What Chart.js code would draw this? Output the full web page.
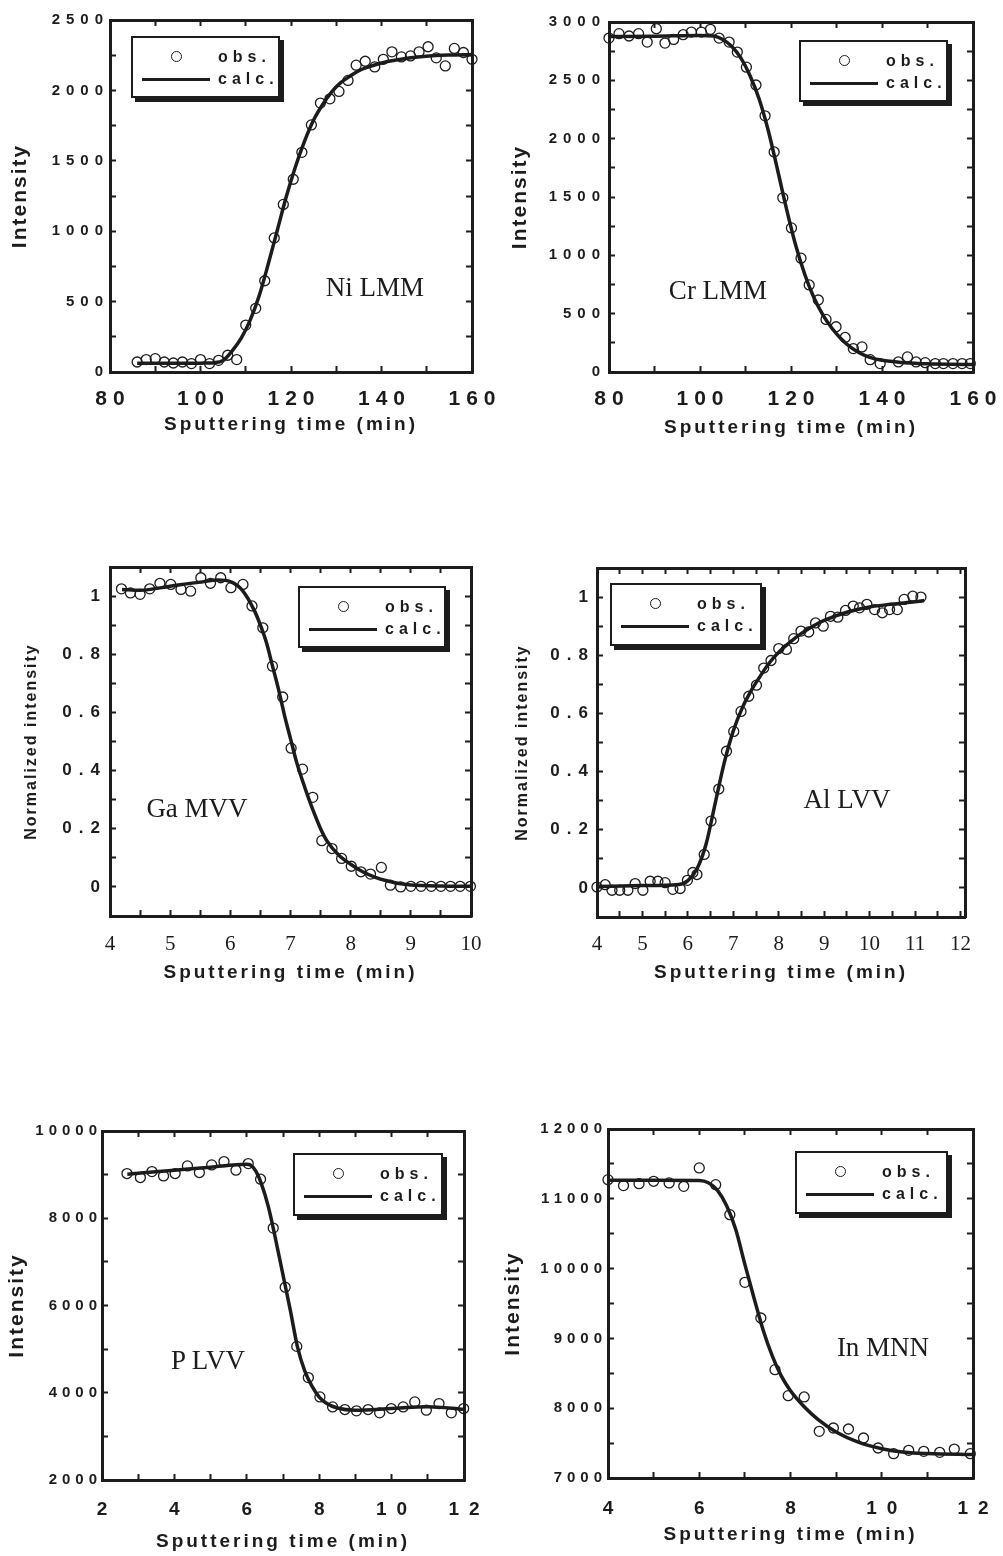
<!DOCTYPE html>
<html lang="en">
<head>
<meta charset="UTF-8">
<title>AES depth profiles: obs. vs calc.</title>
<script src="https://cdn.jsdelivr.net/npm/chart.js"></script>
<style>
  body { margin: 0; background: #fff; }
  #page { position: relative; width: 1003px; height: 1556px; overflow: hidden; background: #fff; }
  #page canvas { position: absolute; }
  .legend {
    position: absolute;
    box-sizing: border-box;
    border: 2px solid #1c1c1c;
    box-shadow: 4px 4px 0 #1c1c1c;
    background: #fff;
    color: #1c1c1c;
    font: bold 16px 'Liberation Sans', Arial, sans-serif;
    letter-spacing: 5px;
  }
  .legend .row { position: absolute; left: 0; right: 0; height: 22px; line-height: 22px; }
  .legend .txt { position: absolute; left: 85px; top: 0; }
  .legend .dot { position: absolute; left: 38px; top: 5px; width: 9px; height: 9px; border: 1.4px solid #1c1c1c; border-radius: 50%; }
  .legend .line { position: absolute; left: 9px; top: 10px; width: 68px; height: 3px; background: #1c1c1c; }
  .tag {
    position: absolute;
    transform: translate(-50%, -50%);
    white-space: nowrap;
    font: 27px 'Liberation Serif', 'Times New Roman', serif;
    color: #1c1c1c;
  }
</style>
</head>
<body>
<div id="page"></div>
<script>
// ---- Ni LMM ----
const niObsX = [86, 88, 90, 92, 94, 96, 98, 100, 102, 104, 106, 108, 110, 112.2, 114.2, 116.3, 118.3, 120.5, 122.4, 124.5, 126.5, 128.6, 130.6, 132.6, 134.4, 136.4, 138.5, 140.4, 142.3, 144.4, 146.4, 148.3, 150.3, 152.1, 154.1, 156.1, 158.1, 160];
const niObsY = [71, 88, 95, 71, 64, 71, 60, 88, 60, 83, 119, 88, 333, 452, 648, 952, 1190, 1369, 1560, 1755, 1910, 1940, 1993, 2071, 2179, 2207, 2167, 2221, 2274, 2238, 2245, 2274, 2310, 2231, 2174, 2298, 2269, 2221];
const niCalcX = [86, 90, 95, 100, 103, 105, 107, 109, 111, 113, 115, 117, 119, 121, 123, 125, 127, 129, 131, 133, 135, 137, 140, 144, 148, 152, 156, 160];
const niCalcY = [62, 62, 62, 63, 66, 82, 150, 240, 370, 545, 770, 1010, 1250, 1460, 1640, 1790, 1900, 1990, 2055, 2100, 2140, 2165, 2195, 2220, 2238, 2248, 2252, 2255];
const niXTicks = [80, 90, 100, 110, 120, 130, 140, 150, 160];
const niXLabels = [80, 100, 120, 140, 160];
const niYTicks = [0, 250, 500, 750, 1000, 1250, 1500, 1750, 2000, 2250, 2500];
const niYLabels = [0, 500, 1000, 1500, 2000, 2500];

// ---- Cr LMM ----
const crObsX = [80, 82.2, 84.4, 86.5, 88.4, 90.4, 92.3, 94.2, 96.3, 98.1, 100.3, 102.3, 104.2, 106.4, 108.2, 110.2, 112.3, 114.3, 116.3, 118.2, 120.1, 122.2, 124, 126, 127.7, 129.9, 131.9, 133.7, 135.6, 137.4, 139.6, 143.6, 145.6, 147.5, 149.5, 151.7, 153.5, 155.6, 157.6, 159.4];
const crObsY = [2862, 2900, 2880, 2900, 2828, 2943, 2819, 2851, 2891, 2914, 2914, 2937, 2862, 2828, 2742, 2613, 2460, 2196, 1886, 1493, 1235, 976, 746, 617, 451, 388, 296, 201, 215, 106, 72, 86, 129, 86, 80, 72, 72, 72, 72, 72];
const crCalcX = [80, 90, 100, 103, 105, 107, 109, 111, 113, 115, 117, 119, 121, 123, 125, 127, 129, 131, 133, 135, 137, 140, 145, 150, 155, 160];
const crCalcY = [2875, 2878, 2885, 2880, 2850, 2790, 2690, 2540, 2340, 2070, 1740, 1400, 1090, 840, 640, 490, 375, 285, 215, 165, 130, 100, 80, 70, 66, 65];
const crXTicks = [80, 90, 100, 110, 120, 130, 140, 150, 160];
const crXLabels = [80, 100, 120, 140, 160];
const crYTicks = [0, 250, 500, 750, 1000, 1250, 1500, 1750, 2000, 2250, 2500, 2750, 3000];
const crYLabels = [0, 500, 1000, 1500, 2000, 2500, 3000];

// ---- Ga MVV ----
const gaObsX = [4.19, 4.34, 4.5, 4.66, 4.83, 5.01, 5.18, 5.34, 5.51, 5.67, 5.84, 6.01, 6.21, 6.36, 6.54, 6.7, 6.87, 7.01, 7.2, 7.37, 7.52, 7.69, 7.85, 8.01, 8.17, 8.33, 8.51, 8.66, 8.83, 9, 9.17, 9.34, 9.5, 9.66, 9.82, 9.99];
const gaObsY = [1.025, 1.011, 1.006, 1.025, 1.044, 1.04, 1.023, 1.017, 1.063, 1.044, 1.063, 1.029, 1.04, 0.966, 0.891, 0.759, 0.653, 0.477, 0.405, 0.308, 0.159, 0.132, 0.098, 0.071, 0.052, 0.044, 0.067, 0.006, 0, 0.002, 0.002, 0.002, 0.002, 0.002, 0.002, 0.002];
const gaCalcX = [4.2, 4.5, 5, 5.5, 5.8, 6, 6.2, 6.4, 6.5, 6.6, 6.7, 6.8, 6.9, 7, 7.1, 7.2, 7.3, 7.4, 7.5, 7.6, 7.8, 8, 8.2, 8.4, 8.6, 8.8, 9, 9.5, 10];
const gaCalcY = [1.023, 1.02, 1.034, 1.048, 1.055, 1.05, 1.02, 0.95, 0.9, 0.84, 0.76, 0.68, 0.59, 0.51, 0.43, 0.365, 0.305, 0.25, 0.2, 0.16, 0.11, 0.078, 0.052, 0.034, 0.021, 0.012, 0.007, 0.003, 0.002];
const gaXTicks = [4, 4.5, 5, 5.5, 6, 6.5, 7, 7.5, 8, 8.5, 9, 9.5, 10];
const gaXLabels = [4, 5, 6, 7, 8, 9, 10];
const gaYTicks = [0, 0.1, 0.2, 0.3, 0.4, 0.5, 0.6, 0.7, 0.8, 0.9, 1];
const gaYLabels = [0, 0.2, 0.4, 0.6, 0.8, 1];

// ---- Al LVV ----
const alObsX = [4, 4.18, 4.33, 4.5, 4.68, 4.84, 5.01, 5.17, 5.34, 5.5, 5.67, 5.83, 5.99, 6.11, 6.2, 6.36, 6.51, 6.68, 6.85, 7.01, 7.17, 7.34, 7.51, 7.67, 7.83, 8, 8.17, 8.33, 8.49, 8.66, 8.81, 8.98, 9.14, 9.3, 9.47, 9.64, 9.78, 9.94, 10.11, 10.28, 10.44, 10.61, 10.76, 10.95, 11.13];
const alObsY = [0.003, 0.011, -0.008, -0.008, -0.008, 0.015, -0.008, 0.023, 0.023, 0.018, -0.005, -0.002, 0.026, 0.053, 0.046, 0.115, 0.23, 0.34, 0.47, 0.538, 0.607, 0.659, 0.697, 0.756, 0.782, 0.823, 0.82, 0.857, 0.883, 0.88, 0.911, 0.9, 0.934, 0.931, 0.954, 0.969, 0.963, 0.975, 0.957, 0.946, 0.957, 0.957, 0.992, 1.003, 1];
const alCalcX = [4, 5, 5.8, 6, 6.2, 6.4, 6.6, 6.8, 7, 7.2, 7.4, 7.6, 7.8, 8, 8.25, 8.5, 8.75, 9, 9.5, 10, 10.5, 11, 11.2];
const alCalcY = [0.005, 0.008, 0.012, 0.025, 0.065, 0.15, 0.29, 0.43, 0.54, 0.62, 0.68, 0.73, 0.775, 0.81, 0.845, 0.875, 0.9, 0.92, 0.948, 0.966, 0.976, 0.984, 0.988];
const alXTicks = [4, 4.5, 5, 5.5, 6, 6.5, 7, 7.5, 8, 8.5, 9, 9.5, 10, 10.5, 11, 11.5, 12];
const alXLabels = [4, 5, 6, 7, 8, 9, 10, 11, 12];
const alYTicks = [0, 0.1, 0.2, 0.3, 0.4, 0.5, 0.6, 0.7, 0.8, 0.9, 1];
const alYLabels = [0, 0.2, 0.4, 0.6, 0.8, 1];

// ---- P LVV ----
const pObsX = [2.69, 3.06, 3.38, 3.7, 4.02, 4.36, 4.69, 5.03, 5.37, 5.7, 6.04, 6.38, 6.73, 7.06, 7.38, 7.7, 8.02, 8.37, 8.71, 9.03, 9.35, 9.67, 9.99, 10.32, 10.64, 10.96, 11.31, 11.65, 11.99];
const pObsY = [9025, 8933, 9070, 8971, 9025, 9200, 9048, 9223, 9299, 9101, 9253, 8895, 7775, 6419, 5063, 4347, 3905, 3676, 3615, 3585, 3615, 3539, 3638, 3676, 3790, 3600, 3752, 3539, 3638];
const pCalcX = [2.7, 4, 5, 6, 6.1, 6.25, 6.4, 6.6, 6.8, 7, 7.2, 7.4, 7.6, 7.8, 8, 8.2, 8.5, 9, 10, 11, 12];
const pCalcY = [9010, 9100, 9170, 9235, 9220, 9080, 8800, 8250, 7500, 6700, 5900, 5050, 4500, 4150, 3900, 3760, 3650, 3600, 3640, 3680, 3620];
const pXTicks = [2, 3, 4, 5, 6, 7, 8, 9, 10, 11, 12];
const pXLabels = [2, 4, 6, 8, 10, 12];
const pYTicks = [2000, 3000, 4000, 5000, 6000, 7000, 8000, 9000, 10000];
const pYLabels = [2000, 4000, 6000, 8000, 10000];

// ---- In MNN ----
const inObsX = [4, 4.34, 4.68, 5, 5.34, 5.66, 6, 6.36, 6.67, 7, 7.35, 7.66, 7.95, 8.3, 8.63, 8.94, 9.27, 9.6, 9.92, 10.26, 10.59, 10.92, 11.27, 11.59, 11.94];
const inObsY = [11274, 11189, 11217, 11251, 11227, 11179, 11442, 11203, 10773, 9803, 9292, 8552, 8180, 8161, 7669, 7716, 7702, 7573, 7430, 7349, 7396, 7382, 7368, 7415, 7349];
const inCalcX = [4, 5, 6, 6.2, 6.4, 6.6, 6.8, 7, 7.2, 7.4, 7.6, 7.8, 8, 8.3, 8.6, 9, 9.5, 10, 10.5, 11, 12];
const inCalcY = [11265, 11265, 11262, 11230, 11120, 10900, 10560, 10060, 9580, 9120, 8750, 8460, 8250, 8020, 7840, 7660, 7510, 7420, 7370, 7350, 7335];
const inXTicks = [4, 5, 6, 7, 8, 9, 10, 11, 12];
const inXLabels = [4, 6, 8, 10, 12];
const inYTicks = [7000, 7500, 8000, 8500, 9000, 9500, 10000, 10500, 11000, 11500, 12000];
const inYLabels = [7000, 8000, 9000, 10000, 11000, 12000];

const INK = '#1c1c1c';
const SANS = "'Liberation Sans', Arial, sans-serif";
const SERIF = "'Liberation Serif', 'Times New Roman', serif";
const X_TITLE = 'Sputtering time (min)';

const bigTicks = { family: SANS, size: 21, weight: 'bold' };
const midTicks = { family: SANS, size: 19, weight: 'bold' };
const serifTicks = { family: SERIF, size: 21 };
const smallY = { family: SANS, size: 15, weight: 'bold' };
const normY = { family: SANS, size: 17, weight: 'bold' };
const intensityFont = { family: SANS, size: 21, weight: 'bold' };
const normFont = { family: SANS, size: 16, weight: 'bold' };

// canvas = [left, top, width, height] on the page, box = plot frame [left, top, right, bottom]
const panels = [
  { name: 'Ni LMM', obs: [niObsX, niObsY], calc: [niCalcX, niCalcY], xr: [80, 160], yr: [0, 2500],
    xt: [niXTicks, niXLabels], yt: [niYTicks, niYLabels], yTitle: 'Intensity',
    canvas: [0, 0, 500, 450], box: [110, 20, 472, 372],
    xFont: bigTicks, xSp: 6, xPad: 20.4, xTitlePad: 13.6,
    yFont: smallY, ySp: 6, yPad: 7, yTitleFont: intensityFont, yTitlePad: 7.4,
    legend: [131, 36, 149, 62], tag: [375, 287] },
  { name: 'Cr LMM', obs: [crObsX, crObsY], calc: [crCalcX, crCalcY], xr: [80, 160], yr: [0, 3000],
    xt: [crXTicks, crXLabels], yt: [crYTicks, crYLabels], yTitle: 'Intensity',
    canvas: [500, 0, 503, 450], box: [609, 22, 973, 372],
    xFont: bigTicks, xSp: 6, xPad: 20.4, xTitlePad: 10.6,
    yFont: smallY, ySp: 6, yPad: 9, yTitleFont: intensityFont, yTitlePad: 7.4,
    legend: [799, 40, 149, 62], tag: [718, 290] },
  { name: 'Ga MVV', obs: [gaObsX, gaObsY], calc: [gaCalcX, gaCalcY], xr: [4, 10], yr: [-0.1, 1.1],
    xt: [gaXTicks, gaXLabels], yt: [gaYTicks, gaYLabels], yTitle: 'Normalized intensity',
    canvas: [0, 550, 500, 450], box: [110, 567, 471, 916],
    xFont: serifTicks, xSp: 0, xPad: 21.4, xTitlePad: 15.6,
    yFont: normY, ySp: 7, yPad: 9, yTitleFont: normFont, yTitlePad: 22.4,
    legend: [298, 586, 148, 62], tag: [197, 808] },
  { name: 'Al LVV', obs: [alObsX, alObsY], calc: [alCalcX, alCalcY], xr: [4, 12.1], yr: [-0.1, 1.1],
    xt: [alXTicks, alXLabels], yt: [alYTicks, alYLabels], yTitle: 'Normalized intensity',
    canvas: [500, 550, 503, 450], box: [597, 568, 965, 917],
    xFont: serifTicks, xSp: 0, xPad: 20.4, xTitlePad: 15.6,
    yFont: normY, ySp: 7, yPad: 8, yTitleFont: normFont, yTitlePad: 13.4,
    legend: [610, 583, 152, 63], tag: [847, 799] },
  { name: 'P LVV', obs: [pObsX, pObsY], calc: [pCalcX, pCalcY], xr: [2, 12], yr: [2000, 10000],
    xt: [pXTicks, pXLabels], yt: [pYTicks, pYLabels], yTitle: 'Intensity',
    canvas: [0, 1110, 500, 446], box: [102, 1131, 464, 1480],
    xFont: midTicks, xSp: 10, xPad: 24.6, xTitlePad: 2.6,
    yFont: smallY, ySp: 5, yPad: 6, yTitleFont: intensityFont, yTitlePad: 4.4,
    legend: [293, 1153, 150, 63], tag: [208, 1360] },
  { name: 'In MNN', obs: [inObsX, inObsY], calc: [inCalcX, inCalcY], xr: [4, 12], yr: [7000, 12000],
    xt: [inXTicks, inXLabels], yt: [inYTicks, inYLabels], yTitle: 'Intensity',
    canvas: [500, 1110, 503, 446], box: [608, 1129, 973, 1478],
    xFont: midTicks, xSp: 10, xPad: 25.6, xTitlePad: 9.6,
    yFont: smallY, ySp: 5, yPad: 7, yTitleFont: intensityFont, yTitlePad: 0.4,
    legend: [795, 1151, 153, 63], tag: [883, 1347] }
];

const page = document.getElementById('page');

// canvas letterSpacing for tick labels and titles (the scanned figure uses wide spacing)
function spacingPlugin(sp) {
  return {
    id: 'spacing',
    beforeDraw(chart) {
      Object.values(chart.scales).forEach(s => {
        if (s.$spaced || !sp[s.id]) return;
        const cfg = sp[s.id];
        const drawLabels = s.drawLabels;
        const drawTitle = s.drawTitle;
        s.drawLabels = function (area) {
          this.ctx.letterSpacing = cfg.ticks + 'px';
          drawLabels.call(this, area);
          this.ctx.letterSpacing = '0px';
        };
        s.drawTitle = function () {
          this.ctx.letterSpacing = cfg.title + 'px';
          drawTitle.call(this);
          this.ctx.letterSpacing = '0px';
        };
        s.$spaced = true;
      });
    }
  };
}

const setTicks = vals => scale => { scale.ticks = vals.map(v => ({ value: v })); };
const onlyLabels = labels => v => (labels.some(l => Math.abs(l - v) < 1e-9) ? String(v) : '');
const toPoints = (xs, ys) => xs.map((x, i) => ({ x: x, y: ys[i] }));

function makeChart(p) {
  const [cl, ct, cw, ch] = p.canvas;
  const [L, T, R, B] = p.box;
  const cv = document.createElement('canvas');
  cv.width = cw;
  cv.height = ch;
  cv.style.left = cl + 'px';
  cv.style.top = ct + 'px';
  page.appendChild(cv);

  const grid = { display: true, drawOnChartArea: false, drawTicks: true, tickLength: -6, tickWidth: 2, tickColor: INK };
  const border = { display: true, width: 3, color: INK };
  const fitX = h => s => { s.height = h; s.paddingLeft = 0; s.paddingRight = 0; };
  const fitY = w => s => { s.width = w; s.paddingTop = 0; s.paddingBottom = 0; };

  const chart = new Chart(cv, {
    type: 'scatter',
    data: {
      datasets: [
        { label: 'obs.', data: toPoints(p.obs[0], p.obs[1]), xAxisID: 'x', yAxisID: 'y',
          showLine: false, pointRadius: 5, pointBorderWidth: 1.3, pointBorderColor: INK,
          pointBackgroundColor: 'rgba(255,255,255,0)', clip: false },
        { label: 'calc.', data: toPoints(p.calc[0], p.calc[1]), xAxisID: 'x', yAxisID: 'y',
          showLine: true, pointRadius: 0, borderColor: INK, borderWidth: 3.5,
          cubicInterpolationMode: 'monotone', clip: false }
      ]
    },
    options: {
      responsive: false,
      animation: false,
      events: [],
      layout: { padding: { left: 0, top: T - ct, right: cl + cw - R, bottom: 0 } },
      plugins: { legend: { display: false }, tooltip: { enabled: false } },
      scales: {
        x: {
          type: 'linear', position: 'bottom', min: p.xr[0], max: p.xr[1],
          grid: grid, border: border,
          afterBuildTicks: setTicks(p.xt[0]), afterFit: fitX(ct + ch - B),
          ticks: { autoSkip: false, maxRotation: 0, callback: onlyLabels(p.xt[1]), font: p.xFont,
                   color: INK, padding: p.xPad, labelOffset: p.xSp / 2 },
          title: { display: true, text: X_TITLE, color: INK,
                   font: { family: SANS, size: 19, weight: 'bold' }, padding: { top: 0, bottom: p.xTitlePad } }
        },
        y: {
          type: 'linear', position: 'left', min: p.yr[0], max: p.yr[1],
          grid: grid, border: border,
          afterBuildTicks: setTicks(p.yt[0]), afterFit: fitY(L - cl),
          ticks: { autoSkip: false, callback: onlyLabels(p.yt[1]), font: p.yFont, color: INK, padding: p.yPad },
          title: { display: true, text: p.yTitle, color: INK, font: p.yTitleFont,
                   padding: { top: p.yTitlePad, bottom: 0 } }
        },
        x2: {
          type: 'linear', position: 'top', min: p.xr[0], max: p.xr[1],
          grid: grid, border: border, ticks: { display: false },
          afterBuildTicks: setTicks(p.xt[0]), afterFit: fitX(0)
        },
        y2: {
          type: 'linear', position: 'right', min: p.yr[0], max: p.yr[1],
          grid: grid, border: border, ticks: { display: false },
          afterBuildTicks: setTicks(p.yt[0]), afterFit: fitY(0)
        }
      }
    },
    plugins: [spacingPlugin({ x: { ticks: p.xSp, title: 3 }, y: { ticks: p.ySp, title: 2 } })]
  });

  // legend box drawn in HTML from the chart's datasets
  const lg = document.createElement('div');
  lg.className = 'legend';
  lg.style.left = p.legend[0] + 'px';
  lg.style.top = p.legend[1] + 'px';
  lg.style.width = p.legend[2] + 'px';
  lg.style.height = p.legend[3] + 'px';
  chart.data.datasets.forEach((ds, i) => {
    const row = document.createElement('div');
    row.className = 'row';
    row.style.top = (8 + i * 22) + 'px';
    const sym = document.createElement('span');
    sym.className = ds.showLine ? 'line' : 'dot';
    const txt = document.createElement('span');
    txt.className = 'txt';
    txt.textContent = ds.label;
    row.appendChild(sym);
    row.appendChild(txt);
    lg.appendChild(row);
  });
  page.appendChild(lg);

  const tag = document.createElement('div');
  tag.className = 'tag';
  tag.style.left = p.tag[0] + 'px';
  tag.style.top = p.tag[1] + 'px';
  tag.textContent = p.name;
  page.appendChild(tag);

  chart.update();
  return chart;
}

panels.forEach(makeChart);
</script>
</body>
</html>
